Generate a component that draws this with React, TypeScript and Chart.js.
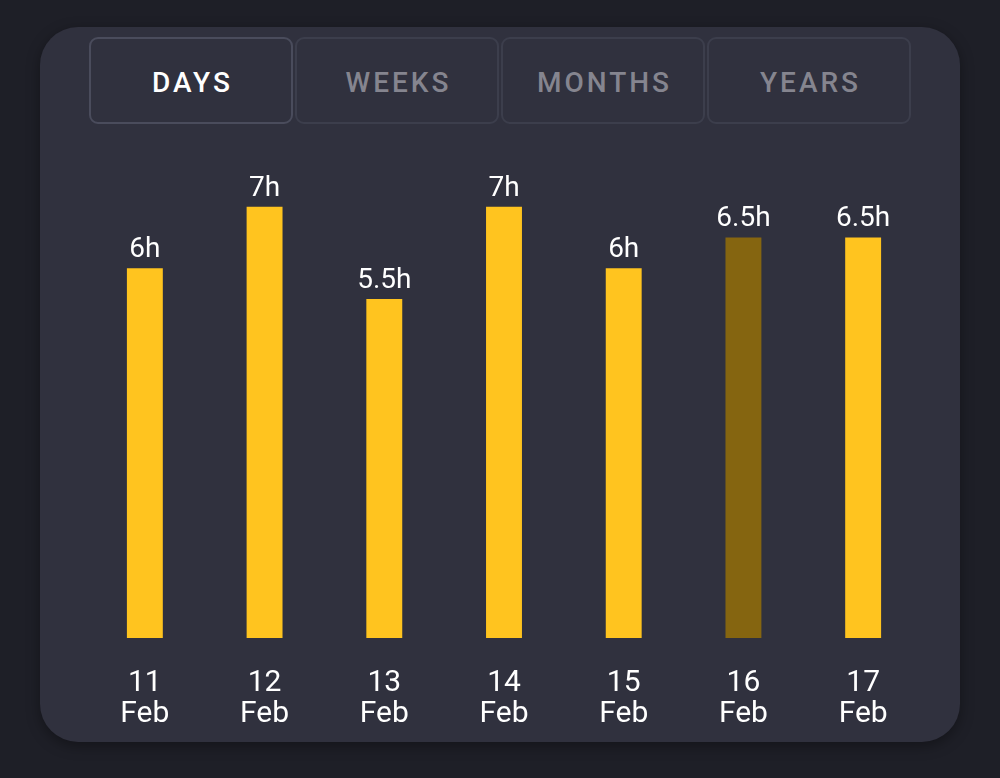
import React, { useEffect, useRef } from "react";
import { Chart, registerables } from "chart.js";

Chart.register(...registerables);

const days = ["11", "12", "13", "14", "15", "16", "17"];
const month = "Feb";
const hours = [6, 7, 5.5, 7, 6, 6.5, 6.5];
const valueLabels = ["6h", "7h", "5.5h", "7h", "6h", "6.5h", "6.5h"];
const highlighted = [false, false, false, false, false, true, false];
const tabs = ["DAYS", "WEEKS", "MONTHS", "YEARS"];
const activeTab = 0;

const YELLOW = "#ffc41f";
const DIM = "#856510";

const valuePlugin = {
  id: "valueLabels",
  afterDatasetsDraw(chart: any) {
    const ctx = chart.ctx;
    const meta = chart.getDatasetMeta(0);
    ctx.save();
    ctx.fillStyle = "#ffffff";
    ctx.font = "400 28px Roboto";
    ctx.textAlign = "center";
    ctx.textBaseline = "bottom";
    meta.data.forEach((bar: any, i: number) => {
      ctx.fillText(valueLabels[i], bar.x, bar.y - 4);
    });
    ctx.restore();
  },
};

export default function App() {
  const ref = useRef<HTMLCanvasElement>(null);
  useEffect(() => {
    const chart = new Chart(ref.current!, {
      type: "bar",
      data: {
        labels: days.map((d) => [d, month]),
        datasets: [
          {
            data: hours,
            backgroundColor: highlighted.map((h) => (h ? DIM : YELLOW)),
            barPercentage: 0.3,
            categoryPercentage: 1,
            borderWidth: 0,
          },
        ],
      },
      options: {
        animation: false,
        responsive: false,
        maintainAspectRatio: false,
        layout: { padding: { left: 45, right: 37, top: 15, bottom: 10 } },
        plugins: { legend: { display: false }, tooltip: { enabled: false } },
        scales: {
          x: {
            grid: { display: false, drawTicks: false },
            border: { display: false },
            ticks: {
              color: "#ffffff",
              padding: 30,
              font: { family: "Roboto", size: 30, lineHeight: "31px" } as any,
              maxRotation: 0,
              autoSkip: false,
            },
          },
          y: { display: false, min: 0, max: 8 },
        },
      },
      plugins: [valuePlugin],
    });
    return () => chart.destroy();
  }, []);

  return (
    <div style={{ position: "fixed", inset: 0, background: "#1e1f27", overflow: "hidden" }}>
      <div
        style={{
          position: "absolute",
          left: 40,
          top: 27,
          width: 920,
          height: 715,
          background: "#30313e",
          borderRadius: 38,
          boxShadow: "0 4px 14px rgba(0,0,0,0.35)",
        }}
      />
      {tabs.map((t, i) => (
        <div
          key={t}
          style={{
            position: "absolute",
            left: 89 + i * 206,
            top: 37,
            width: 204,
            height: 87,
            boxSizing: "border-box",
            border: `2px solid ${i === activeTab ? "#4a4c5c" : "#3c3e4c"}`,
            borderRadius: 9,
            display: "flex",
            alignItems: "center",
            justifyContent: "center",
            fontFamily: "Roboto",
            fontWeight: 500,
            fontSize: 28,
            letterSpacing: 3,
            color: i === activeTab ? "#ffffff" : "#85858f",
            paddingLeft: 3,
            paddingTop: 4,
          }}
        >
          {t}
        </div>
      ))}
      <canvas
        ref={ref}
        width={920}
        height={640}
        style={{ position: "absolute", left: 40, top: 130, width: 920, height: 640 }}
      />
    </div>
  );
}
